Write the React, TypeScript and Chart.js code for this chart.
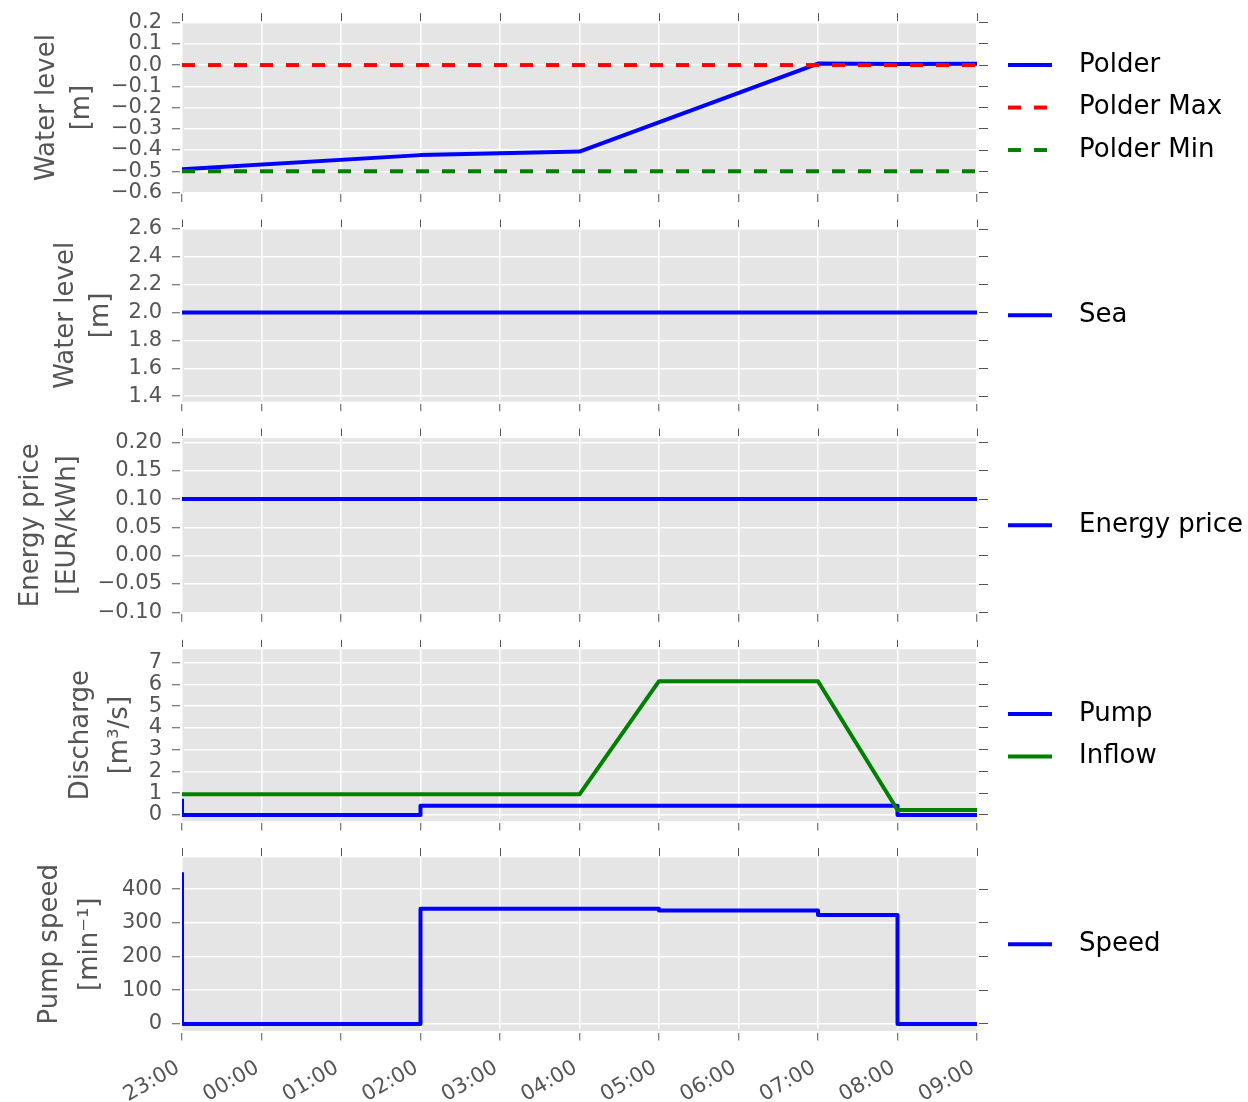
import React, { useEffect, useRef } from 'react';
import { Chart, registerables } from 'chart.js';

Chart.register(...registerables);
Chart.defaults.font.family = '"DejaVu Sans", sans-serif';

// ---- time axis ----
const hourLabels = ['23:00', '00:00', '01:00', '02:00', '03:00', '04:00', '05:00', '06:00', '07:00', '08:00', '09:00'];

// ---- polder water level [m] ----
const polderTimes = ['23:00', '02:00', '04:00', '07:00', '08:00', '09:00'];
const polderLevel = [-0.49, -0.424, -0.407, 0.007, 0.005, 0.006];
const limitTimes = ['23:00', '09:00'];
const polderMax = [0.0, 0.0];
const polderMin = [-0.5, -0.5];
const levelTicks = [-0.6, -0.5, -0.4, -0.3, -0.2, -0.1, 0.0, 0.1, 0.2];

// ---- sea water level [m] ----
const seaTimes = ['23:00', '09:00'];
const seaLevel = [2.0, 2.0];
const seaTicks = [1.4, 1.6, 1.8, 2.0, 2.2, 2.4, 2.6];

// ---- energy price [EUR/kWh] ----
const priceTimes = ['23:00', '09:00'];
const energyPrice = [0.1, 0.1];
const priceTicks = [-0.1, -0.05, 0.0, 0.05, 0.1, 0.15, 0.2];

// ---- discharge [m3/s] ----
const pumpFlowTimes = ['23:00', '23:00', '02:00', '08:00', '09:00'];
const pumpFlow = [0.75, 0, 0.43, 0, 0];
const inflowTimes = ['23:00', '04:00', '05:00', '07:00', '08:00', '09:00'];
const inflow = [0.95, 0.95, 6.15, 6.15, 0.23, 0.23];
const dischargeTicks = [0, 1, 2, 3, 4, 5, 6, 7];

// ---- pump speed [1/min] ----
const speedTimes = ['23:00', '23:00', '02:00', '05:00', '07:00', '08:00', '09:00'];
const pumpSpeed = [450, 0, 342, 337, 323, 0, 0];
const speedTicks = [0, 100, 200, 300, 400];

const BLUE = '#0000ff';
const RED = '#ff0000';
const GREEN = '#008000';
const PLOT_BG = '#e5e5e5';
const TICK_GRAY = '#555555';

const W = 1248;
const H = 1102;
const PLOT_LEFT = 182;
const PLOT_RIGHT = 977;
const EDGE_TICK = 9.5;
const RIGHT_AXIS = 12;

function hoursFrom(t: string): number {
  const [h, m] = t.split(':').map(Number);
  return ((h - 23 + 24) % 24) + m / 60;
}

function fmt(v: number, decimals: number): string {
  const s = Math.abs(v).toFixed(decimals);
  return (v < -1e-9 ? '\u2212' : '') + s;
}

type Series = { label: string; times: string[]; values: number[]; color: string; dash?: number[]; stepped?: boolean };
type Panel = {
  title: string[];
  titleMid: number;
  titleLine: number;
  min: number;
  max: number;
  ticks: number[];
  decimals: number;
  top: number;
  bottom: number;
  series: Series[];
};

const panels: Panel[] = [
  {
    title: ['Water level', '[m]'], titleMid: 47.5, titleLine: 34.5,
    min: -0.6, max: 0.2, ticks: levelTicks, decimals: 1, top: 20.5, bottom: 192.5,
    series: [
      { label: 'Polder', times: polderTimes, values: polderLevel, color: BLUE },
      { label: 'Polder Max', times: limitTimes, values: polderMax, color: RED, dash: [13, 13] },
      { label: 'Polder Min', times: limitTimes, values: polderMin, color: GREEN, dash: [13, 13] },
    ],
  },
  {
    title: ['Water level', '[m]'], titleMid: 66, titleLine: 35,
    min: 1.36, max: 2.6, ticks: seaTicks, decimals: 1, top: 229, bottom: 401.7,
    series: [{ label: 'Sea', times: seaTimes, values: seaLevel, color: BLUE }],
  },
  {
    title: ['Energy price', '[EUR/kWh]'], titleMid: 31.7, titleLine: 37,
    min: -0.1, max: 0.208, ticks: priceTicks, decimals: 2, top: 438, bottom: 612.3,
    series: [{ label: 'Energy price', times: priceTimes, values: energyPrice, color: BLUE }],
  },
  {
    title: ['Discharge', '[m\u00b3/s]'], titleMid: 80.8, titleLine: 39,
    min: -0.276, max: 7.616, ticks: dischargeTicks, decimals: 0, top: 649.3, bottom: 821,
    series: [
      { label: 'Pump', times: pumpFlowTimes, values: pumpFlow, color: BLUE, stepped: true },
      { label: 'Inflow', times: inflowTimes, values: inflow, color: GREEN },
    ],
  },
  {
    title: ['Pump speed', '[min\u207b\u00b9]'], titleMid: 50, titleLine: 40,
    min: -21, max: 494, ticks: speedTicks, decimals: 0, top: 857.5, bottom: 1031,
    series: [{ label: 'Speed', times: speedTimes, values: pumpSpeed, color: BLUE, stepped: true }],
  },
];

// grey panel background behind grid and lines
const plotBackground = {
  id: 'plotBackground',
  beforeDraw(chart: any) {
    const { ctx, chartArea } = chart;
    ctx.save();
    ctx.fillStyle = PLOT_BG;
    ctx.fillRect(chartArea.left, chartArea.top, chartArea.right - chartArea.left, chartArea.bottom - chartArea.top);
    ctx.restore();
  },
};

// legend to the right of each panel, centred on the panel
const sideLegend = {
  id: 'sideLegend',
  afterDraw(chart: any) {
    const { ctx, chartArea } = chart;
    const sets = chart.data.datasets;
    const mid = (chartArea.top + chartArea.bottom) / 2;
    const x0 = chartArea.right + 31;
    ctx.save();
    sets.forEach((ds: any, i: number) => {
      const y = mid + (i - (sets.length - 1) / 2) * 42.5;
      ctx.beginPath();
      ctx.setLineDash(ds.borderDash || []);
      ctx.lineWidth = ds.borderWidth;
      ctx.lineCap = 'butt';
      ctx.strokeStyle = ds.borderColor;
      ctx.moveTo(x0, y);
      ctx.lineTo(x0 + 44, y);
      ctx.stroke();
      ctx.setLineDash([]);
      ctx.fillStyle = '#000';
      ctx.font = '26px "DejaVu Sans"';
      ctx.textBaseline = 'middle';
      ctx.textAlign = 'left';
      ctx.fillText(ds.label, x0 + 71, y);
    });
    ctx.restore();
  },
};

function makeConfig(p: Panel, showTimes: boolean): any {
  const bottomH = showTimes ? H - p.bottom : EDGE_TICK;
  const hourTicks = hourLabels.map(hoursFrom);
  const n = p.series.length;
  const edgeBorder = { display: true, width: 4, color: 'rgba(0,0,0,0)' };
  const tickMarks = { drawOnChartArea: false, drawTicks: true, tickLength: EDGE_TICK, tickColor: TICK_GRAY, tickWidth: 1 };
  const setHourTicks = (a: any) => { a.ticks = hourTicks.map((value) => ({ value })); };
  const setValueTicks = (a: any) => { a.ticks = p.ticks.map((value) => ({ value })); };

  return {
    type: 'line',
    data: {
      datasets: p.series.map((s, i) => ({
        label: s.label,
        data: s.times.map((t, k) => ({ x: hoursFrom(t), y: s.values[k] })),
        borderColor: s.color,
        backgroundColor: s.color,
        borderWidth: 4,
        borderDash: s.dash || [],
        borderCapStyle: 'butt',
        borderJoinStyle: 'round',
        stepped: s.stepped ? 'before' : false,
        pointRadius: 0,
        pointHoverRadius: 0,
        fill: false,
        tension: 0,
        clip: 0,
        order: n - i,
        xAxisID: 'x',
        yAxisID: 'y',
      })),
    },
    options: {
      animation: false,
      responsive: false,
      devicePixelRatio: 1,
      events: [],
      layout: {
        padding: {
          left: 0,
          right: W - PLOT_RIGHT - RIGHT_AXIS,
          top: p.top - EDGE_TICK,
          bottom: H - p.bottom - bottomH,
        },
      },
      plugins: { legend: { display: false }, tooltip: { enabled: false } },
      scales: {
        x: {
          type: 'linear',
          position: 'bottom',
          min: 0,
          max: 10,
          afterBuildTicks: setHourTicks,
          afterFit: (a: any) => { a.height = bottomH; },
          grid: { color: '#ffffff', lineWidth: 1.5, drawTicks: true, tickLength: EDGE_TICK, tickColor: TICK_GRAY, tickWidth: 1 },
          border: edgeBorder,
          ticks: {
            display: showTimes,
            autoSkip: false,
            minRotation: 30,
            maxRotation: 30,
            padding: 15,
            labelOffset: -4,
            color: TICK_GRAY,
            font: { size: 21 },
            callback: (_v: any, i: number) => hourLabels[i],
          },
        },
        xTop: {
          type: 'linear',
          position: 'top',
          min: 0,
          max: 10,
          afterBuildTicks: setHourTicks,
          afterFit: (a: any) => { a.height = EDGE_TICK; },
          grid: tickMarks,
          border: edgeBorder,
          ticks: { display: false, autoSkip: false },
        },
        y: {
          type: 'linear',
          position: 'left',
          min: p.min,
          max: p.max,
          afterBuildTicks: setValueTicks,
          afterFit: (a: any) => { a.width = PLOT_LEFT; },
          grid: { color: '#ffffff', lineWidth: 1.5, drawTicks: true, tickLength: 10, tickColor: TICK_GRAY, tickWidth: 1 },
          border: edgeBorder,
          ticks: {
            autoSkip: false,
            padding: 10,
            color: TICK_GRAY,
            font: { size: 21 },
            callback: (v: any) => fmt(Number(v), p.decimals),
          },
          title: {
            display: true,
            text: p.title,
            color: TICK_GRAY,
            font: { size: 26, lineHeight: p.titleLine / 26 },
            padding: { top: p.titleMid - p.titleLine / 2, bottom: 0 },
          },
        },
        yRight: {
          type: 'linear',
          position: 'right',
          min: p.min,
          max: p.max,
          afterBuildTicks: setValueTicks,
          afterFit: (a: any) => { a.width = RIGHT_AXIS; },
          grid: { ...tickMarks, tickLength: 11 },
          border: edgeBorder,
          ticks: { display: false, autoSkip: false },
        },
      },
    },
    plugins: [plotBackground, sideLegend],
  };
}

export default function App() {
  const refs = useRef<(HTMLCanvasElement | null)[]>([]);

  useEffect(() => {
    const charts = panels.map((p, i) => new Chart(refs.current[i] as HTMLCanvasElement, makeConfig(p, i === panels.length - 1)));
    return () => charts.forEach((c) => c.destroy());
  }, []);

  return (
    <div style={{ position: 'absolute', left: 0, top: 0, width: W, height: H, background: '#ffffff' }}>
      {panels.map((_p, i) => (
        <canvas
          key={i}
          ref={(el) => { refs.current[i] = el; }}
          width={W}
          height={H}
          style={{ position: 'absolute', left: 0, top: 0 }}
        />
      ))}
    </div>
  );
}
